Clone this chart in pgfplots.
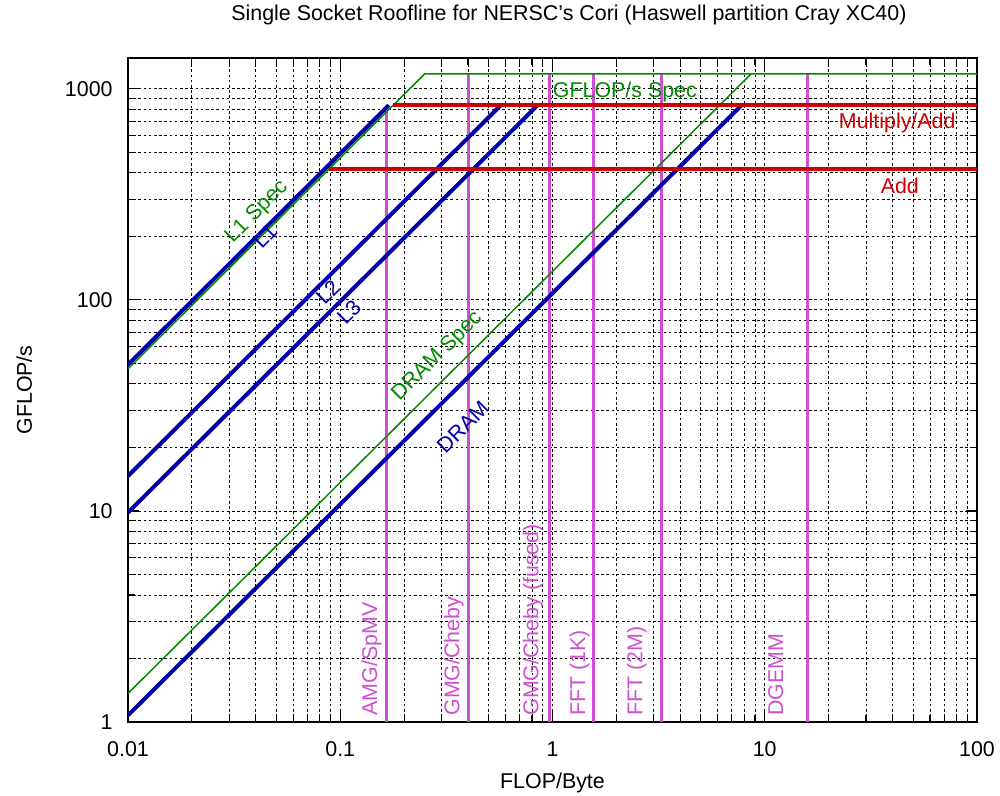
\documentclass[border=0pt]{standalone}
\usepackage{fontspec}
\setmainfont{Liberation Sans}
\usepackage{pgfplots}
\pgfplotsset{compat=1.18}
\definecolor{roofblue}{HTML}{0000AA}
\definecolor{roofgreen}{HTML}{008A00}
\definecolor{roofred}{HTML}{CC0000}
\definecolor{kernel}{HTML}{D04FD0}

\begin{document}
\begin{tikzpicture}[font=\fontsize{10.7bp}{12.8bp}\selectfont]
\begin{loglogaxis}[
    scale only axis,
    width=424.5bp, height=332bp,
    xmin=0.01, xmax=100,
    ymin=1, ymax=1400,
    log ticks with fixed point,
    /pgf/number format/assume math mode=true,
    /pgf/number format/1000 sep={},
    tick align=inside,
    major tick length=5.5bp,
    minor tick length=3.5bp,
    every tick/.style={black, line width=0.6bp},
    axis line style={line width=0.9bp},
    grid=both,
    major grid style={black, line width=0.4bp, dash pattern=on 1.3bp off 1.3bp},
    minor grid style={black, line width=0.4bp, dash pattern=on 1.3bp off 1.3bp},
    xticklabel style={anchor=base, inner sep=0pt, yshift=-17bp},
    yticklabel style={anchor=east, inner sep=0pt, xshift=-7.5bp},
    title={Single Socket Roofline for NERSC's Cori (Haswell partition Cray XC40)},
    title style={at={(axis description cs:0.5194,1.0377)}, anchor=base, inner sep=0pt},
    xlabel={FLOP/Byte},
    xlabel style={at={(axis description cs:0.5,-0.0994)}, anchor=base, inner sep=0pt},
    ylabel={GFLOP/s},
    ylabel style={at={(axis description cs:-0.1131,0.5)}, anchor=base, inner sep=0pt},
]
% kernel arithmetic intensities
\addplot[kernel, line width=1.5bp] coordinates {(0.166,1) (0.166,782)};
\addplot[kernel, line width=1.5bp] coordinates {(0.40,1) (0.40,1177.6)};
\addplot[kernel, line width=1.5bp] coordinates {(0.97,1) (0.97,1177.6)};
\addplot[kernel, line width=1.5bp] coordinates {(1.555,1) (1.555,1177.6)};
\addplot[kernel, line width=1.5bp] coordinates {(3.27,1) (3.27,1177.6)};
\addplot[kernel, line width=1.5bp] coordinates {(15.9,1) (15.9,1177.6)};

% spec ceilings
\addplot[roofgreen, line width=0.75bp] coordinates {(0.01,47.1) (0.25,1177.6) (100,1177.6)};
\addplot[roofgreen, line width=0.75bp] coordinates {(0.01,1.365) (8.627,1177.6)};

% measured bandwidths
\addplot[roofblue, line width=2bp] coordinates {(0.01,49.35) (0.1694,836)};
\addplot[roofblue, line width=2bp] coordinates {(0.01,14.64) (0.571,836)};
\addplot[roofblue, line width=2bp] coordinates {(0.01,9.83) (0.8505,836)};
\addplot[roofblue, line width=2bp] coordinates {(0.01,1.075) (7.777,836)};

% compute ceilings
\addplot[roofred, line width=2bp] coordinates {(0.1775,836) (100,836)};
\addplot[roofred, line width=2bp] coordinates {(0.0888,418) (100,418)};

\node[roofgreen, rotate=45] at (axis cs:0.0405,261) {L1 Spec};
\node[roofblue, rotate=45] at (axis cs:0.0442,201) {L1};
\node[roofblue, rotate=45] at (axis cs:0.0875,109) {L2};
\node[roofblue, rotate=45] at (axis cs:0.110,87.7) {L3};
\node[roofgreen, rotate=45] at (axis cs:0.287,53.9) {DRAM Spec};
\node[roofblue, rotate=45] at (axis cs:0.378,25.0) {DRAM};
\node[roofgreen, anchor=west, inner sep=0pt] at (axis cs:1,968) {GFLOP/s Spec};
\node[roofred] at (axis cs:42.1,690) {Multiply/Add};
\node[roofred] at (axis cs:43.3,347) {Add};

\node[kernel, rotate=90, anchor=west, inner sep=0pt] at (axis cs:0.1406,1.068) {AMG/SpMV};
\node[kernel, rotate=90, anchor=west, inner sep=0pt] at (axis cs:0.343,1.068) {GMG/Cheby};
\node[kernel, rotate=90, anchor=west, inner sep=0pt] at (axis cs:0.809,1.068) {GMG/Cheby (fused)};
\node[kernel, rotate=90, anchor=west, inner sep=0pt] at (axis cs:1.34,1.068) {FFT (1K)};
\node[kernel, rotate=90, anchor=west, inner sep=0pt] at (axis cs:2.50,1.068) {FFT (2M)};
\node[kernel, rotate=90, anchor=west, inner sep=0pt] at (axis cs:11.28,1.068) {DGEMM};
\end{loglogaxis}
\pgfresetboundingbox
\useasboundingbox ([xshift=-64bp,yshift=-37bp]current axis.south west) rectangle ([xshift=11.5bp,yshift=29bp]current axis.north east);
\end{tikzpicture}
\end{document}
